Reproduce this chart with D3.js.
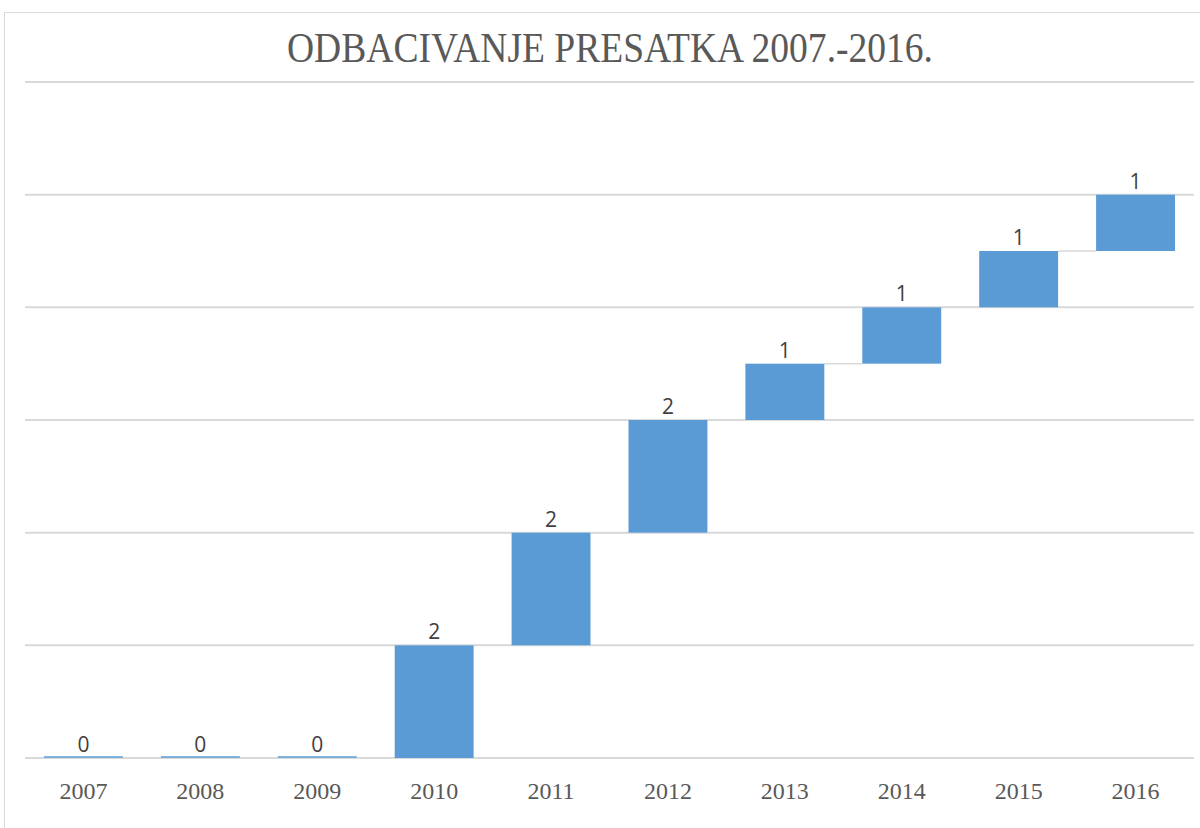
<!DOCTYPE html>
<html>
<head>
<meta charset="utf-8">
<script src="https://cdnjs.cloudflare.com/ajax/libs/d3/7.8.5/d3.min.js"></script>
<style>
  body { margin: 0; background: #fff; }
</style>
</head>
<body>
<div id="chart"></div>
<script>
// Waterfall data
const years = ['2007', '2008', '2009', '2010', '2011', '2012', '2013', '2014', '2015', '2016']
const changes = [0, 0, 0, 2, 2, 2, 1, 1, 1, 1]
const yTicks = [0, 2, 4, 6, 8, 10, 12]
const titleText = 'ODBACIVANJE PRESATKA 2007.-2016.'

const width = 1200
const height = 828
const plot = { left: 25, right: 1194, top: 82, bottom: 758 }

// running totals -> start / end of each step
let total = 0
const steps = changes.map((v, i) => {
  const start = total
  total += v
  return { year: years[i], value: v, start: start, end: total }
})

const svg = d3.select('#chart')
  .append('svg')
  .attr('width', width)
  .attr('height', height)

// chart frame (only top and left edge visible)
svg.append('path')
  .attr('d', `M4.5,${height}V12.5H${width}`)
  .attr('fill', 'none')
  .attr('stroke', '#d9d9d9')
  .attr('stroke-width', 1)

const x = d3.scaleBand()
  .domain(years)
  .range([plot.left, plot.right])
  .paddingInner(0.325)
  .paddingOuter(0.1625)

const y = d3.scaleLinear()
  .domain([0, 12])
  .range([plot.bottom, plot.top])

// gridlines
svg.append('g')
  .selectAll('line')
  .data(yTicks)
  .join('line')
  .attr('x1', plot.left)
  .attr('x2', plot.right)
  .attr('y1', d => y(d))
  .attr('y2', d => y(d))
  .attr('stroke', '#d9d9d9')
  .attr('stroke-width', 2)

// connector lines between steps
svg.append('g')
  .selectAll('line')
  .data(steps.slice(0, -1))
  .join('line')
  .attr('x1', d => x(d.year) + x.bandwidth())
  .attr('x2', (d, i) => x(steps[i + 1].year))
  .attr('y1', d => y(d.end))
  .attr('y2', d => y(d.end))
  .attr('stroke', '#d9d9d9')
  .attr('stroke-width', 1.5)

// bars (zero steps still show as a thin line, like Excel)
const minBar = 2
svg.append('g')
  .selectAll('rect')
  .data(steps)
  .join('rect')
  .attr('x', d => x(d.year))
  .attr('width', x.bandwidth())
  .attr('y', d => Math.min(y(d.end), y(d.start) - minBar))
  .attr('height', d => Math.max(minBar, y(d.start) - y(d.end)))
  .attr('fill', '#5b9bd5')
  .attr('fill-opacity', d => d.value === 0 ? 0.75 : 1)

// data labels
svg.append('g')
  .selectAll('text')
  .data(steps)
  .join('text')
  .attr('x', d => x(d.year) + x.bandwidth() / 2)
  .attr('y', d => y(d.end) - 6)
  .attr('text-anchor', 'middle')
  .attr('font-family', '"Open Sans", "Liberation Sans", sans-serif')
  .attr('font-size', '21px')
  .attr('fill', '#404040')
  .text(d => d.value)

// category axis labels
const xAxis = d3.axisBottom(x).tickSize(0).tickPadding(0)
const axisG = svg.append('g')
  .attr('transform', `translate(0,${plot.bottom})`)
  .call(xAxis)
axisG.select('.domain').remove()
axisG.selectAll('text')
  .attr('dy', null)
  .attr('y', 41)
  .attr('font-family', '"Liberation Serif", "Times New Roman", serif')
  .attr('font-size', '24px')
  .attr('fill', '#595959')

// title
svg.append('text')
  .attr('x', 610)
  .attr('y', 62)
  .attr('text-anchor', 'middle')
  .attr('font-family', '"Liberation Serif", "Times New Roman", serif')
  .attr('font-size', '42px')
  .attr('fill', '#595959')
  .attr('textLength', 646)
  .attr('lengthAdjust', 'spacingAndGlyphs')
  .text(titleText)
</script>
</body>
</html>
